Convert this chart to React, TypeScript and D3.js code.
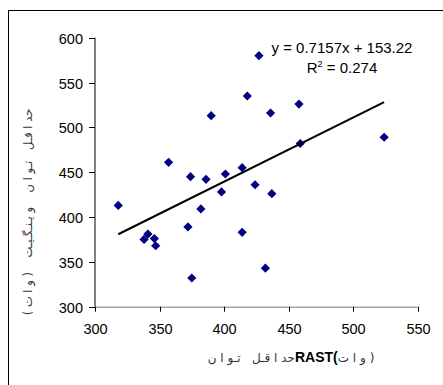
import * as d3 from "d3";

// RAST minimum power (W) vs Wingate minimum power (W)
const rastPower = [318, 338, 341, 346, 347, 357, 372, 374, 375, 382, 386, 390, 398, 401, 414, 414, 418, 424, 427, 432, 436, 437, 458, 459, 524];
const wingatePower = [413, 375, 381, 376, 368, 461, 389, 445, 332, 409, 442, 513, 428, 448, 455, 383, 535, 436, 580, 343, 516, 426, 526, 482, 489];
const xTicks = [300, 350, 400, 450, 500, 550];
const yTicks = [300, 350, 400, 450, 500, 550, 600];
const slope = 0.7157;
const intercept = 153.22;
const rSquared = "0.274";

const latin = "'Liberation Sans', Arial, sans-serif";
const arabic = "'DejaVu Sans', sans-serif";

export default function App() {
  const x = d3.scaleLinear().domain([300, 550]).range([95, 417.7]);
  const y = d3.scaleLinear().domain([300, 600]).range([306.7, 37.7]);
  const [x0, x1] = d3.extent(rastPower) as [number, number];
  const trend = d3.line<number>().x(d => x(d)).y(d => y(slope * d + intercept));
  const r = 4.6;
  const diamond = `M0,${-r}L${r},0L0,${r}L${-r},0Z`;

  return (
    <svg width={443} height={385} style={{ position: "absolute", left: 0, top: 0, background: "#fff" }}>
      <rect x={8.5} y={10.5} width={440} height={380} fill="#fff" stroke="#000" strokeWidth={1} />

      {/* axes */}
      <line x1={95} x2={95} y1={y(600)} y2={y(300)} stroke="#000" />
      <line x1={95} x2={x(550)} y1={y(300) + 0.5} y2={y(300) + 0.5} stroke="#777" />
      {yTicks.map(t => (
        <g key={t} transform={`translate(0,${Math.round(y(t)) + 0.5})`}>
          <line x1={89} x2={95} stroke="#000" />
          <text x={83} dy="0.36em" textAnchor="end" fontFamily={latin} fontSize={14.5}>{t}</text>
        </g>
      ))}
      {xTicks.map(t => (
        <g key={t} transform={`translate(${Math.round(x(t)) + 0.5},${y(300)})`}>
          <line y1={0} y2={5} stroke="#000" />
          <text y={27.5} textAnchor="middle" fontFamily={latin} fontSize={14.5}>{t}</text>
        </g>
      ))}

      {/* points */}
      {rastPower.map((v, i) => (
        <path key={i} d={diamond} transform={`translate(${x(v)},${y(wingatePower[i])})`} fill="#000080" />
      ))}

      {/* trend line */}
      <path d={trend([x0, x1]) ?? ""} fill="none" stroke="#000" strokeWidth={2} />

      {/* equation */}
      <text x={342} y={53} textAnchor="middle" fontFamily={latin} fontSize={15}>
        {`y = ${slope}x + ${intercept}`}
      </text>
      <text x={342} y={73} textAnchor="middle" fontFamily={latin} fontSize={15}>
        R<tspan fontSize={9} dy={-6}>2</tspan><tspan dy={6}>{` = ${rSquared}`}</tspan>
      </text>

      {/* axis titles */}
      <text x={291} y={362} textAnchor="middle" direction="ltr" fill="#333" style={{ whiteSpace: "pre" }}>
        <tspan fontFamily={arabic} fontSize={12}>{"حد ا قـل   تـو ا ن"}</tspan>
        <tspan fontFamily={latin} fontSize={14} fontWeight="bold" fill="#000">RAST(</tspan>
        <tspan fontFamily={arabic} fontSize={12}>{"و ا ت "}</tspan>
        <tspan fontFamily={arabic} fontSize={12}>)</tspan>
      </text>
      <text transform="translate(32,212) rotate(-90)" textAnchor="middle" fontFamily={arabic} fontSize={11.5} fill="#333" style={{ whiteSpace: "pre" }}>
        {"حد ا قـل   تـو ا ن    و یـنـگـیـت    ( و ا ت )"}
      </text>
    </svg>
  );
}
